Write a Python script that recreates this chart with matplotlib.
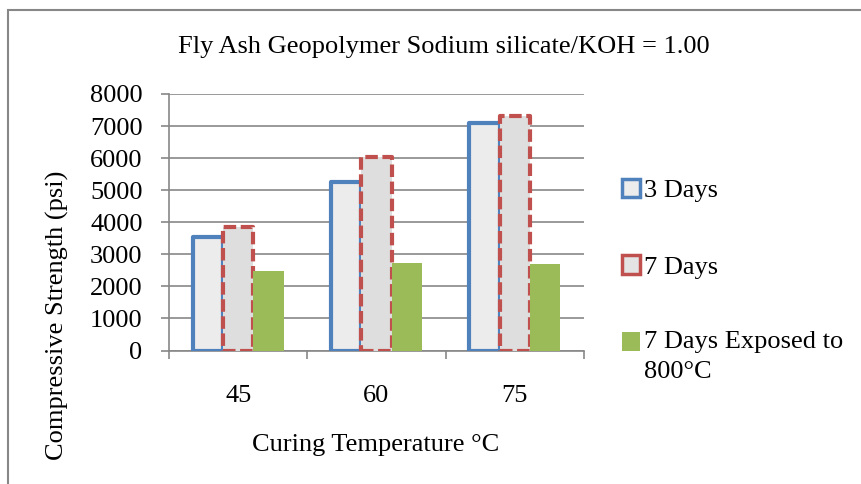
import matplotlib
matplotlib.use("Agg")
import matplotlib.pyplot as plt
from matplotlib.patches import Patch, Rectangle
from matplotlib.legend_handler import HandlerPatch
import numpy as np

categories = ["45", "60", "75"]
series_names = ["3 Days", "7 Days", "7 Days Exposed to\n800°C"]
days3 = [3550, 5250, 7080]
days7 = [3850, 6050, 7300]
exposed800 = [2480, 2720, 2700]
yticks = [0, 1000, 2000, 3000, 4000, 5000, 6000, 7000, 8000]

title = "Fly Ash Geopolymer Sodium silicate/KOH = 1.00"
xlabel = "Curing Temperature °C"
ylabel = "Compressive Strength (psi)"

plt.rcParams['font.family'] = ['Liberation Serif', 'DejaVu Serif']
FS = 19
GRAY = '#878787'
BLUE = '#4F81BD'
RED = '#C0504D'
GREEN = '#9BBB59'

W, H = 861, 484
fig = plt.figure(figsize=(W / 100, H / 100), dpi=100)
ax = fig.add_axes([169 / W, 1 - 350.5 / H, (584 - 169) / W, (350.5 - 94) / H])

x = np.arange(len(categories))
bw = 0.22
ax.bar(x - bw, days3, bw, facecolor='#ececec', edgecolor=BLUE, linewidth=3, zorder=3,
       joinstyle='round')
ax.bar(x, days7, bw, facecolor='#dedede', edgecolor=RED, linewidth=3, linestyle=(0, (3, 1.1)),
       zorder=4, joinstyle='round')
ax.bar(x + bw, exposed800, bw, facecolor=GREEN, edgecolor='none', zorder=5)

ax.set_xlim(-0.5, 2.5)
ax.set_ylim(0, 8000)
ax.set_yticks(yticks)
ax.set_yticklabels([str(v) for v in yticks])
ax.yaxis.grid(True, color=GRAY, linewidth=1.2, zorder=1)
ax.set_axisbelow(True)

ax.set_xticks(x)
ax.set_xticklabels(categories)
ax.set_xticks([-0.5, 0.5, 1.5, 2.5], minor=True)
ax.tick_params(axis='x', which='major', length=0, pad=25, labelsize=FS)
ax.tick_params(axis='x', which='minor', length=6, width=1.2, color=GRAY, direction='out')
ax.tick_params(axis='y', length=6, width=1.2, color=GRAY, pad=13, labelsize=FS)

for s in ['top', 'right']:
    ax.spines[s].set_visible(False)
for s in ['left', 'bottom']:
    ax.spines[s].set_color(GRAY)
    ax.spines[s].set_linewidth(1.2)

ax.set_xlabel(xlabel, fontsize=FS)
ax.xaxis.label.set_va('center')
ax.xaxis.set_label_coords(((376 - 169) / (584 - 169)), (350.5 - 445) / (350.5 - 94))
ax.set_ylabel(ylabel, fontsize=FS)
ax.yaxis.label.set_va('center')
ax.yaxis.set_label_coords((57 - 169) / (584 - 169), (350.5 - 315) / (350.5 - 94))

fig.text(444 / W, 1 - 47 / H, title, ha='center', va='center', fontsize=FS)


def top_aligned_patch(legend, orig_handle, xdescent, ydescent, width, height, fontsize):
    # align the marker with the first line of a two-line label
    shift = fontsize * 0.57
    return Rectangle((-xdescent, -ydescent + shift), width, height)


handles = [Patch(facecolor='#ececec', edgecolor=BLUE, linewidth=2.5),
           Patch(facecolor='#e4e4e4', edgecolor=RED, linewidth=2.5),
           Patch(facecolor=GREEN, edgecolor='none')]
leg = fig.legend(handles, series_names, loc='upper left', bbox_to_anchor=(622 / W, 1 - 179 / H),
                 frameon=False, fontsize=FS, handlelength=0.7, handleheight=0.7,
                 handletextpad=0.15, labelspacing=2.0, borderpad=0, borderaxespad=0,
                 handler_map={handles[2]: HandlerPatch(patch_func=top_aligned_patch)})
for t in leg.get_texts():
    t.set_linespacing(1.43)

fig.add_artist(Rectangle((7.5 / W, -0.2), 1.5, 1.2 - 9.5 / H, transform=fig.transFigure,
                         facecolor='none', edgecolor=GRAY, linewidth=1.5))

fig.savefig("out.png", dpi=100)
